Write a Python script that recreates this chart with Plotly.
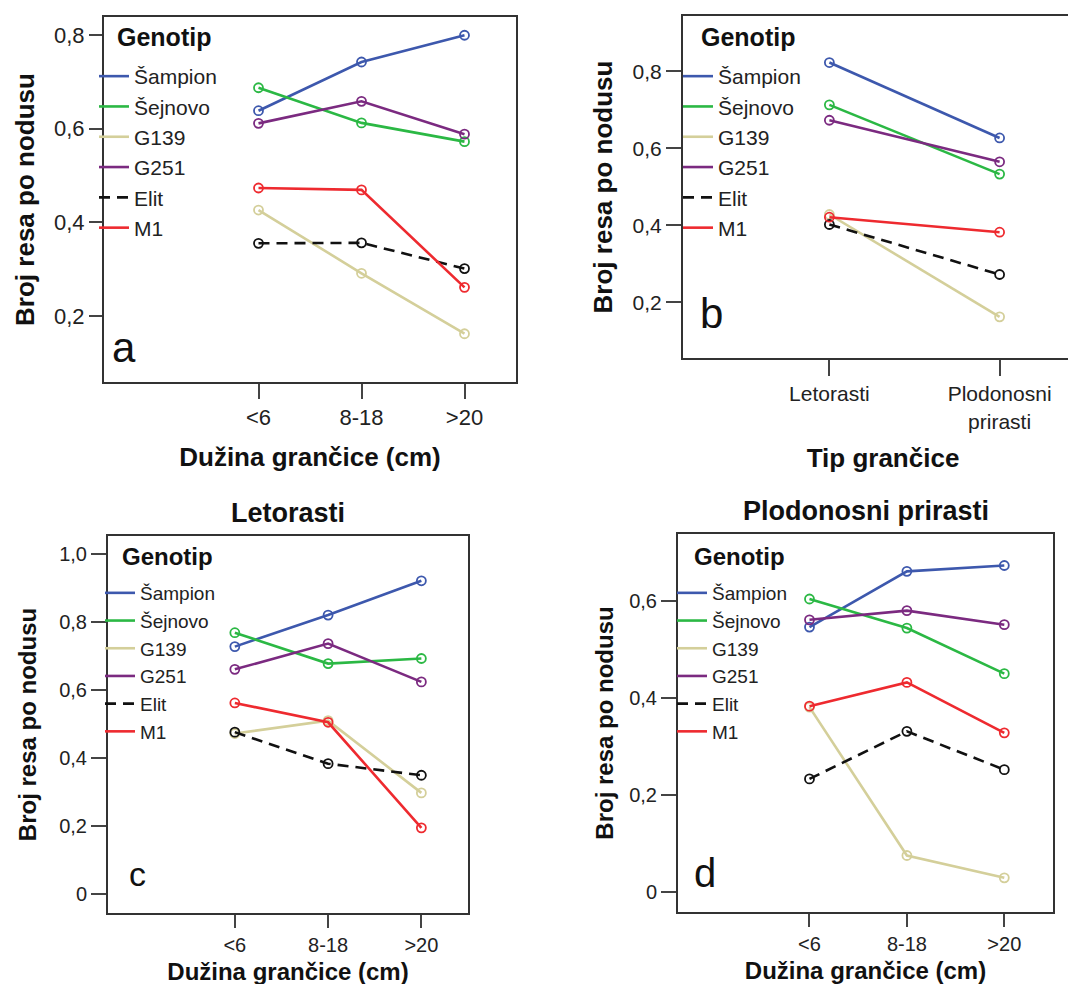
import plotly.graph_objects as go

# ---------------- data ----------------
genotypes = ["Šampion", "Šejnovo", "G139", "G251", "Elit", "M1"]

length_categories = ["<6", "8-18", ">20"]
type_categories = ["Letorasti", "Plodonosni prirasti"]
type_tick_labels = ["Letorasti", "Plodonosni<br>prirasti"]

# panel a: all shoots, by shoot length (rows follow genotypes order)
values_a = [
    [0.638, 0.742, 0.799],
    [0.687, 0.612, 0.572],
    [0.426, 0.291, 0.162],
    [0.611, 0.658, 0.588],
    [0.355, 0.356, 0.301],
    [0.473, 0.469, 0.261],
]
# panel b: by shoot type
values_b = [
    [0.823, 0.627],
    [0.713, 0.533],
    [0.428, 0.162],
    [0.673, 0.565],
    [0.402, 0.272],
    [0.421, 0.382],
]
# panel c: Letorasti by shoot length
values_c = [
    [0.728, 0.821, 0.922],
    [0.769, 0.678, 0.693],
    [0.472, 0.510, 0.297],
    [0.661, 0.737, 0.624],
    [0.476, 0.383, 0.349],
    [0.562, 0.505, 0.194],
]
# panel d: Plodonosni prirasti by shoot length
values_d = [
    [0.547, 0.662, 0.674],
    [0.605, 0.545, 0.451],
    [0.382, 0.076, 0.030],
    [0.562, 0.581, 0.552],
    [0.234, 0.332, 0.253],
    [0.384, 0.433, 0.329],
]

ticks_a = [0.2, 0.4, 0.6, 0.8]
ticklabels_a = ["0,2", "0,4", "0,6", "0,8"]
ticks_b = [0.2, 0.4, 0.6, 0.8]
ticklabels_b = ["0,2", "0,4", "0,6", "0,8"]
ticks_c = [0.0, 0.2, 0.4, 0.6, 0.8, 1.0]
ticklabels_c = ["0", "0,2", "0,4", "0,6", "0,8", "1,0"]
ticks_d = [0.0, 0.2, 0.4, 0.6]
ticklabels_d = ["0", "0,2", "0,4", "0,6"]

# ---------------- style ----------------
colors = ["#3d58ad", "#2bb844", "#d4cf9a", "#7b2a80", "#111111", "#ee2a2f"]
dashes = ["solid", "solid", "solid", "solid", "11px,7px", "solid"]
FONT = "Liberation Sans, Arial, sans-serif"
W, H = 1076, 984

panels = [
    dict(key="", letter="a", cats=length_categories, ticktext=length_categories, vals=values_a,
         box=(96, 9, 508, 374), xr=[-1.5, 2.5], yr=[0.059, 0.838],
         yt=ticks_a, ytl=ticklabels_a, xtitle="Dužina grančice (cm)", title=None,
         legend="legend", lpos=(86, 48), gpos=(107, 29), letpos=(0.049, 0.025), letsize=42,
         fs=dict(tick=22, title=26, leg=21, legtitle=25), ylen=13, xlen=15,
         ystand=12, xstand=18),
    dict(key="2", letter="b", cats=type_categories, ticktext=type_tick_labels, vals=values_b,
         box=(675, 8, 1075, 350), xr=[-0.86, 1.49], yr=[0.055, 0.944],
         yt=ticks_b, ytl=ticklabels_b, xtitle="Tip grančice", title=None,
         legend="legend2", lpos=(670, 48), gpos=(691, 29), letpos=(0.072, 0.056), letsize=42,
         fs=dict(tick=21, title=26, leg=21, legtitle=25), ylen=15, xlen=16,
         ystand=12, xstand=17),
    dict(key="3", letter="c", cats=length_categories, ticktext=length_categories, vals=values_c,
         box=(100, 528, 460, 905), xr=[-1.36, 2.5], yr=[-0.057, 1.054],
         yt=ticks_c, ytl=ticklabels_c, xtitle="Dužina grančice (cm)", title="Letorasti",
         legend="legend3", lpos=(92, 566), gpos=(112, 548), letpos=(0.083, 0.048), letsize=34,
         fs=dict(tick=20, title=24, leg=19, legtitle=24), ylen=15, xlen=13,
         ystand=16, xstand=8),
    dict(key="4", letter="d", cats=length_categories, ticktext=length_categories, vals=values_d,
         box=(670, 526, 1045, 904), xr=[-1.35, 2.5], yr=[-0.0405, 0.739],
         yt=ticks_d, ytl=ticklabels_d, xtitle="Dužina grančice (cm)", title="Plodonosni prirasti",
         legend="legend4", lpos=(664, 566), gpos=(684, 548), letpos=(0.072, 0.04), letsize=40,
         fs=dict(tick=20, title=24, leg=19, legtitle=24), ylen=15, xlen=13,
         ystand=9, xstand=8),
]

fig = go.Figure()
layout = dict(
    width=W, height=H, margin=dict(l=0, r=0, t=0, b=0),
    paper_bgcolor="white", plot_bgcolor="white",
    font=dict(family=FONT, size=17, color="#222222"),
    separators=", ",
    showlegend=True,
    annotations=[],
)

for p in panels:
    xa = "x" + p["key"]
    ya = "y" + p["key"]
    fs = p["fs"]
    for i, g in enumerate(genotypes):
        grp = p["legend"] + "_" + g
        fig.add_trace(go.Scatter(
            x=p["cats"], y=p["vals"][i], mode="lines", name=g,
            line=dict(color=colors[i], width=2.6, dash=dashes[i]),
            xaxis=xa, yaxis=ya, legend=p["legend"], legendgroup=grp,
            showlegend=True, hoverinfo="skip"))
        fig.add_trace(go.Scatter(
            x=p["cats"], y=p["vals"][i], mode="markers", name=g,
            marker=dict(symbol="circle-open", size=9, color=colors[i],
                        line=dict(width=1.8, color=colors[i])),
            xaxis=xa, yaxis=ya, legend=p["legend"], legendgroup=grp,
            showlegend=False))
    x0, y0, x1, y1 = p["box"]
    dx = [x0 / W, x1 / W]
    dy = [1 - y1 / H, 1 - y0 / H]
    axis_common = dict(showline=True, mirror=True, linecolor="#333333", linewidth=2,
                       showgrid=False, zeroline=False, ticks="outside", tickcolor="#444444",
                       tickwidth=1.5, tickfont=dict(family=FONT, size=fs["tick"], color="#222222"))
    layout["xaxis" + p["key"]] = dict(
        axis_common, domain=dx, anchor=ya, type="category", range=p["xr"],
        tickvals=p["cats"], ticktext=p["ticktext"], ticklen=p["xlen"],
        title=dict(text="<b>" + p["xtitle"] + "</b>",
                   font=dict(family=FONT, size=fs["title"], color="#111111"), standoff=p["xstand"]))
    layout["yaxis" + p["key"]] = dict(
        axis_common, domain=dy, anchor=xa, range=p["yr"],
        tickvals=p["yt"], ticktext=p["ytl"], ticklen=p["ylen"],
        title=dict(text="<b>Broj resa po nodusu</b>",
                   font=dict(family=FONT, size=fs["title"], color="#111111"), standoff=p["ystand"]))
    lx, ly = p["lpos"]
    layout[p["legend"]] = dict(
        x=lx / W, y=1 - ly / H, xanchor="left", yanchor="top",
        bgcolor="rgba(0,0,0,0)", borderwidth=0,
        font=dict(family=FONT, size=fs["leg"], color="#222222"),
        tracegroupgap=0, itemclick=False, itemdoubleclick=False)
    gx, gy = p["gpos"]
    layout["annotations"].append(dict(
        text="<b>Genotip</b>", xref="paper", yref="paper",
        x=gx / W, y=1 - gy / H, xanchor="left", yanchor="middle",
        showarrow=False, font=dict(family=FONT, size=fs["legtitle"], color="#111111")))
    layout["annotations"].append(dict(
        text=p["letter"], xref=xa + " domain", yref=ya + " domain",
        x=p["letpos"][0], y=p["letpos"][1], xanchor="center", yanchor="bottom",
        showarrow=False, font=dict(family=FONT, size=p["letsize"], color="#111111")))
    if p["title"]:
        layout["annotations"].append(dict(
            text="<b>" + p["title"] + "</b>", xref=xa + " domain", yref=ya + " domain",
            x=0.5, y=1.0, yshift=6, xanchor="center", yanchor="bottom",
            showarrow=False, font=dict(family=FONT, size=27, color="#111111")))

fig.update_layout(**layout)
fig.write_html("out.html")
